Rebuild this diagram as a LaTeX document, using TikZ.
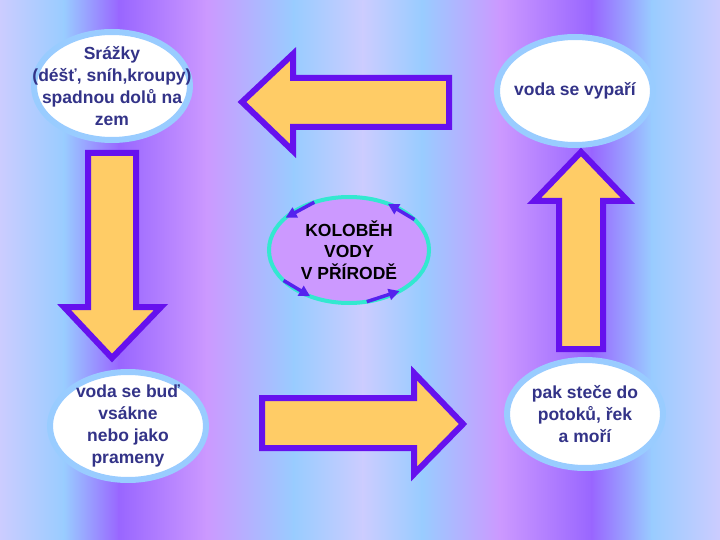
\documentclass[tikz,border=0pt]{standalone}
\usepackage{fontspec}
\setmainfont{Liberation Sans}
\usetikzlibrary{shapes.geometric, arrows.meta}
\definecolor{bgpale}{HTML}{CCCCFF}
\definecolor{bgblue}{HTML}{99CCFF}
\definecolor{bgviolet}{HTML}{9966FF}
\definecolor{bgpink}{HTML}{CC99FF}
\definecolor{ringblue}{HTML}{99CCFF}
\definecolor{textnavy}{HTML}{333388}
\definecolor{arrowfill}{HTML}{FFCC66}
\definecolor{arrowline}{HTML}{6611EE}
\definecolor{lilac}{HTML}{CC99FF}
\definecolor{turq}{HTML}{33E8D0}
\definecolor{tinyline}{HTML}{5522EE}
\begin{document}
\begin{tikzpicture}[x=1pt, y=-1pt,
		bubble/.style = {ellipse, fill=white, draw=ringblue, line width=6pt,
				minimum width=156pt, minimum height=108pt, inner sep=0pt, outer sep=0pt},
		bubbletext/.style = {align=center, text=textnavy, inner sep=0pt,
				font=\bfseries\fontsize{17.5}{22}\selectfont},
		bigarrow/.style = {fill=arrowfill, draw=arrowline, line width=6pt, line join=miter},
		tinyarrow/.style = {-{Triangle[length=11pt, width=11pt]}, draw=tinyline, fill=tinyline, line width=3.5pt},
	]
	\path[use as bounding box] (0,0) rectangle (720,540);
	\foreach \xa/\ca/\xb/\cb in {0/bgpale/64/bgblue, 64/bgblue/119/bgviolet,
			119/bgviolet/207/bgpink, 207/bgpink/294/bgblue, 294/bgblue/363/bgpale,
			363/bgpale/422/bgblue, 422/bgblue/500/bgpink, 500/bgpink/592/bgviolet,
			592/bgviolet/652/bgblue, 652/bgblue/720/bgpale}
		\shade[left color=\ca, right color=\cb] (\xa-0.3,0) rectangle (\xb+0.3,540);

	\node[bubble] (srazky) at (112,86) {};
	\node[bubbletext] (srazkytext) at (srazky.center) {Srážky\\(déšť, sníh,kroupy)\\spadnou dolů na\\zem};
	\node[bubble] (vypar) at (575,91) {};
	\node[bubbletext] (vypartext) at (vypar.center) {voda se vypaří};
	\node[bubble] (vsak) at (128,426) {};
	\node[bubbletext] (vsaktext) at (vsak.center) {voda se buď\\vsákne\\nebo jako\\prameny};
	\node[bubble] (potoky) at (585,414) {};
	\node[bubbletext] (potokytext) at (potoky.center) {pak steče do\\potoků, řek\\a moří};

	\draw[bigarrow] (242,102) -- (293,54) -- (293,78) -- (449,78) -- (449,127) -- (293,127) -- (293,151) -- cycle;
	\draw[bigarrow] (88,153) -- (136,153) -- (136,307) -- (161,307) -- (112,358) -- (64,307) -- (88,307) -- cycle;
	\draw[bigarrow] (262,398) -- (414,398) -- (414,373) -- (463,424) -- (414,474) -- (414,448) -- (262,448) -- cycle;
	\draw[bigarrow] (559,349) -- (603,349) -- (603,201) -- (628,201) -- (581,152) -- (534,201) -- (559,201) -- cycle;

	\node[ellipse, fill=lilac, draw=turq, line width=4pt, minimum width=160pt, minimum height=106pt,
		inner sep=0pt, outer sep=0pt] (kolobeh) at (349,250) {};
	\node[align=center, inner sep=0pt, font=\bfseries\fontsize{17.5}{21.5}\selectfont] (kolobehtext) at (kolobeh.center) {KOLOBĚH\\VODY\\V PŘÍRODĚ};
	\draw[tinyarrow] (kolobeh.126) -- (kolobeh.153);
	\draw[tinyarrow] (kolobeh.205) -- (kolobeh.230);
	\draw[tinyarrow] (kolobeh.289) -- (kolobeh.321);
	\draw[tinyarrow] (kolobeh.25) -- (kolobeh.50);
\end{tikzpicture}
\end{document}
